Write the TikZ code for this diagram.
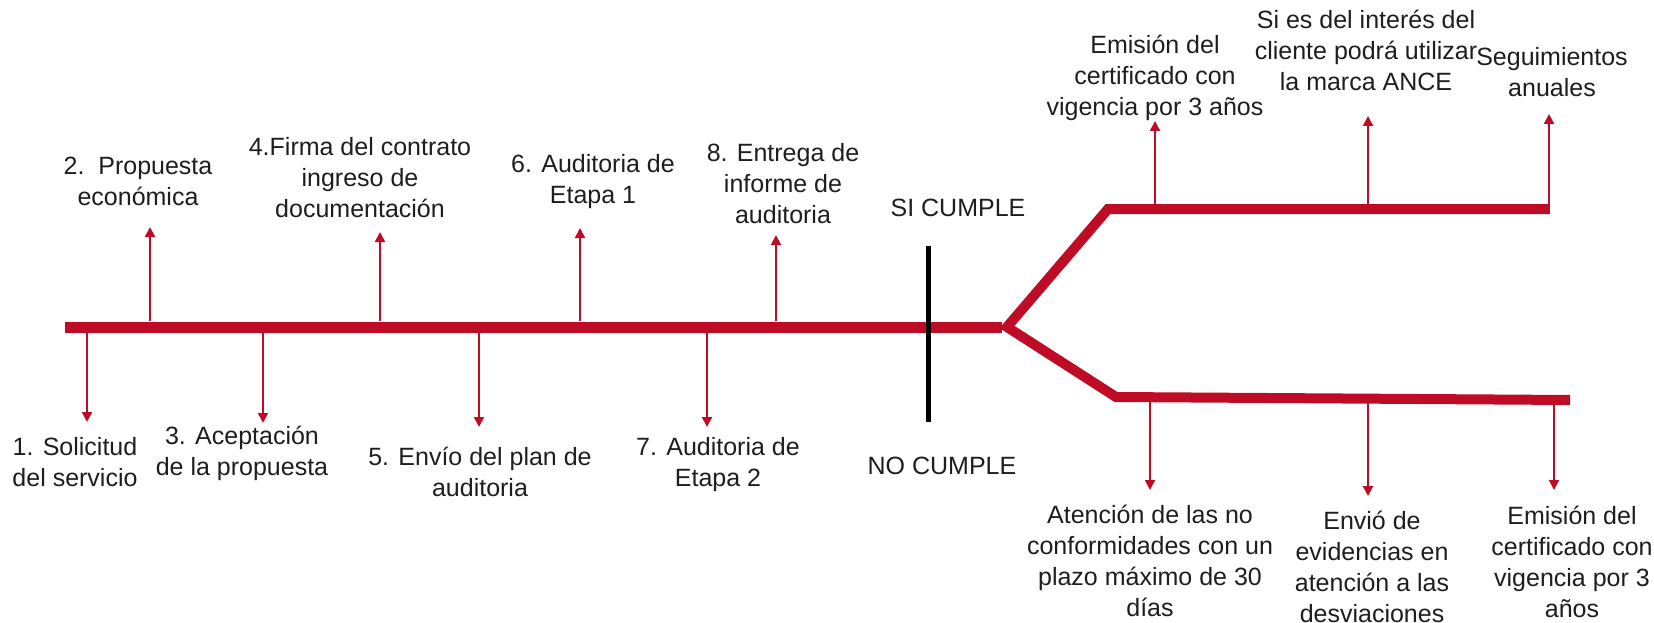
\documentclass[tikz,border=0pt]{standalone}
\usepackage{fontspec}
\setmainfont{Liberation Sans}
\usetikzlibrary{arrows.meta}
\definecolor{cred}{RGB}{190,12,38}
\definecolor{ctext}{RGB}{30,30,30}
\begin{document}
\begin{tikzpicture}[x=1pt,y=-1pt,
  thick line/.style={draw=cred,line width=11pt,line join=miter},
  branch/.style={draw=cred,line width=10pt,line join=miter},
  tick/.style={draw=cred,line width=2pt,-{Triangle[width=10pt,length=10pt]}},
  lbl/.style={align=center,inner sep=0pt,text=ctext,font=\fontsize{25}{31}\selectfont},
  mark line/.style={draw=black,line width=5pt}]
\useasboundingbox (0,0) rectangle (1654,623);
% main spine and branches
\coordinate (s0) at (65,327);
\coordinate (j) at (1007,327);
\coordinate (uc) at (1108,209);
\coordinate (ue) at (1549,209);
\coordinate (lc) at (1116,397);
\coordinate (le) at (1570,400);
\draw[thick line] (s0) -- (1002,327);
\draw[branch] (ue) -- (uc) -- (j) -- (lc) -- (le);
% black separator
\coordinate (k1) at (928,246);
\coordinate (k2) at (928,422);
\draw[mark line] (k1) -- (k2);
% labels
\node[lbl] (L1) at (75,462) {1. Solicitud\\del servicio};
\node[lbl] (L2) at (138,181) {2.\ \ Propuesta\\económica};
\node[lbl] (L3) at (242,453) {3. Aceptación\\de la propuesta};
\node[lbl] (L4) at (360,178) {4.Firma del contrato\\ingreso de\\documentación};
\node[lbl] (L5) at (480,472) {5. Envío del plan de\\auditoria};
\node[lbl] (L6) at (593,182) {6. Auditoria de\\Etapa 1};
\node[lbl] (L7) at (718,465) {7. Auditoria de\\Etapa 2};
\node[lbl] (L8) at (783,184) {8. Entrega de\\informe de\\auditoria};
\node[lbl] (SI) at (958,208) {SI CUMPLE};
\node[lbl] (NO) at (942,466) {NO CUMPLE};
\node[lbl] (U1) at (1155,78) {Emisión del\\certificado con\\vigencia por 3 años};
\node[lbl] (U2) at (1366,50) {Si es del interés del\\cliente podrá utilizar\\la marca ANCE};
\node[lbl] (U3) at (1552,72) {Seguimientos\\anuales};
\node[lbl] (D1) at (1150,561) {Atención de las no\\conformidades con un\\plazo máximo de 30\\días};
\node[lbl] (D2) at (1372,567) {Envió de\\evidencias en\\atención a las\\desviaciones};
\node[lbl] (D3) at (1572,562) {Emisión del\\certificado con\\vigencia por 3\\años};
% arrow coordinates
\coordinate (a1s) at (87,333);  \coordinate (a1t) at (87,422);
\coordinate (a2s) at (150,321); \coordinate (a2t) at (150,227);
\coordinate (a3s) at (263,333); \coordinate (a3t) at (263,423);
\coordinate (a4s) at (380,321); \coordinate (a4t) at (380,232);
\coordinate (a5s) at (479,333); \coordinate (a5t) at (479,427);
\coordinate (a6s) at (580,321); \coordinate (a6t) at (580,228);
\coordinate (a7s) at (707,333); \coordinate (a7t) at (707,427);
\coordinate (a8s) at (776,321); \coordinate (a8t) at (776,235);
\coordinate (b1s) at (1155,205); \coordinate (b1t) at (1155,121);
\coordinate (b2s) at (1368,205); \coordinate (b2t) at (1368,116);
\coordinate (b3s) at (1549,214); \coordinate (b3t) at (1549,114);
\coordinate (c1s) at (1150,401); \coordinate (c1t) at (1150,490);
\coordinate (c2s) at (1368,402); \coordinate (c2t) at (1368,496);
\coordinate (c3s) at (1554,404); \coordinate (c3t) at (1554,490);
\foreach \a in {a1,a2,a3,a4,a5,a6,a7,a8,b1,b2,b3,c1,c2,c3}
  \draw[tick] (\a s) -- (\a t);
\end{tikzpicture}
\end{document}
